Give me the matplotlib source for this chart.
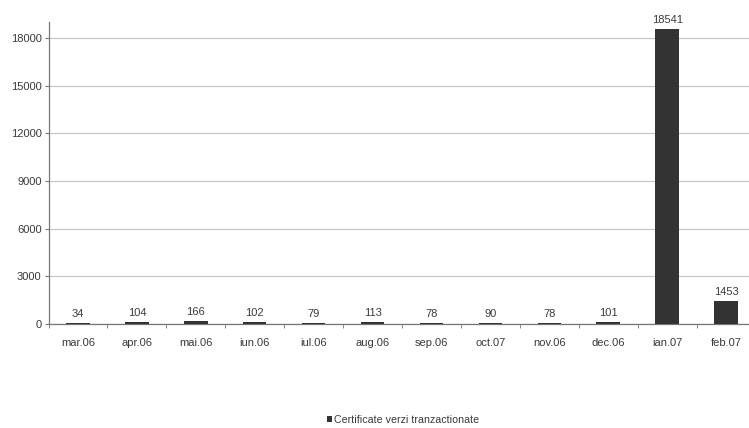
import matplotlib
matplotlib.use('Agg')
import matplotlib.pyplot as plt
import numpy as np

months = ['mar.06', 'apr.06', 'mai.06', 'iun.06', 'iul.06', 'aug.06',
          'sep.06', 'oct.07', 'nov.06', 'dec.06', 'ian.07', 'feb.07']
values = [34, 104, 166, 102, 79, 113, 78, 90, 78, 101, 18541, 1453]
yticks = [0, 3000, 6000, 9000, 12000, 15000, 18000]

plt.rcParams['font.family'] = ['Liberation Sans', 'DejaVu Sans']
txt = '#3a3a3a'

fig = plt.figure(figsize=(7.49, 4.28), dpi=100)
ax = fig.add_axes([48.5 / 749, 104 / 428, 707 / 749, 302 / 428])

x = np.arange(len(months))
bars = ax.bar(x, values, width=0.4, color='#333333', zorder=3,
              label='Certificate verzi tranzactionate')
for xi, v in zip(x, values):
    ax.text(xi, v + 250, str(v), ha='center', va='bottom', fontsize=8, color=txt)

ax.set_xlim(-0.5, len(months) - 0.5)
ax.set_ylim(0, 19000)
ax.set_yticks(yticks)
ax.set_yticklabels([str(t) for t in yticks], fontsize=8, color=txt)
ax.yaxis.grid(True, color='#c8c8c8', linewidth=0.9, zorder=0)
ax.set_xticks(x)
ax.set_xticklabels(months, fontsize=8, color=txt)
ax.tick_params(axis='x', length=0, pad=10)
ax.set_xticks(np.arange(len(months) + 1) - 0.5, minor=True)
ax.tick_params(axis='x', which='minor', length=3, color='#777777')
ax.tick_params(axis='y', length=3, color='#777777', pad=2)

for s in ['top', 'right']:
    ax.spines[s].set_visible(False)
for s in ['left', 'bottom']:
    ax.spines[s].set_color('#777777')
    ax.spines[s].set_linewidth(0.9)

fig.legend(handles=[bars], labels=['Certificate verzi tranzactionate'],
           loc='center', bbox_to_anchor=(403 / 749, 1 - 420 / 428),
           frameon=False, fontsize=7.7, handlelength=0.5, handleheight=0.5,
           handletextpad=0.15, labelcolor=txt)

fig.savefig('out.png', dpi=100, facecolor='white')
